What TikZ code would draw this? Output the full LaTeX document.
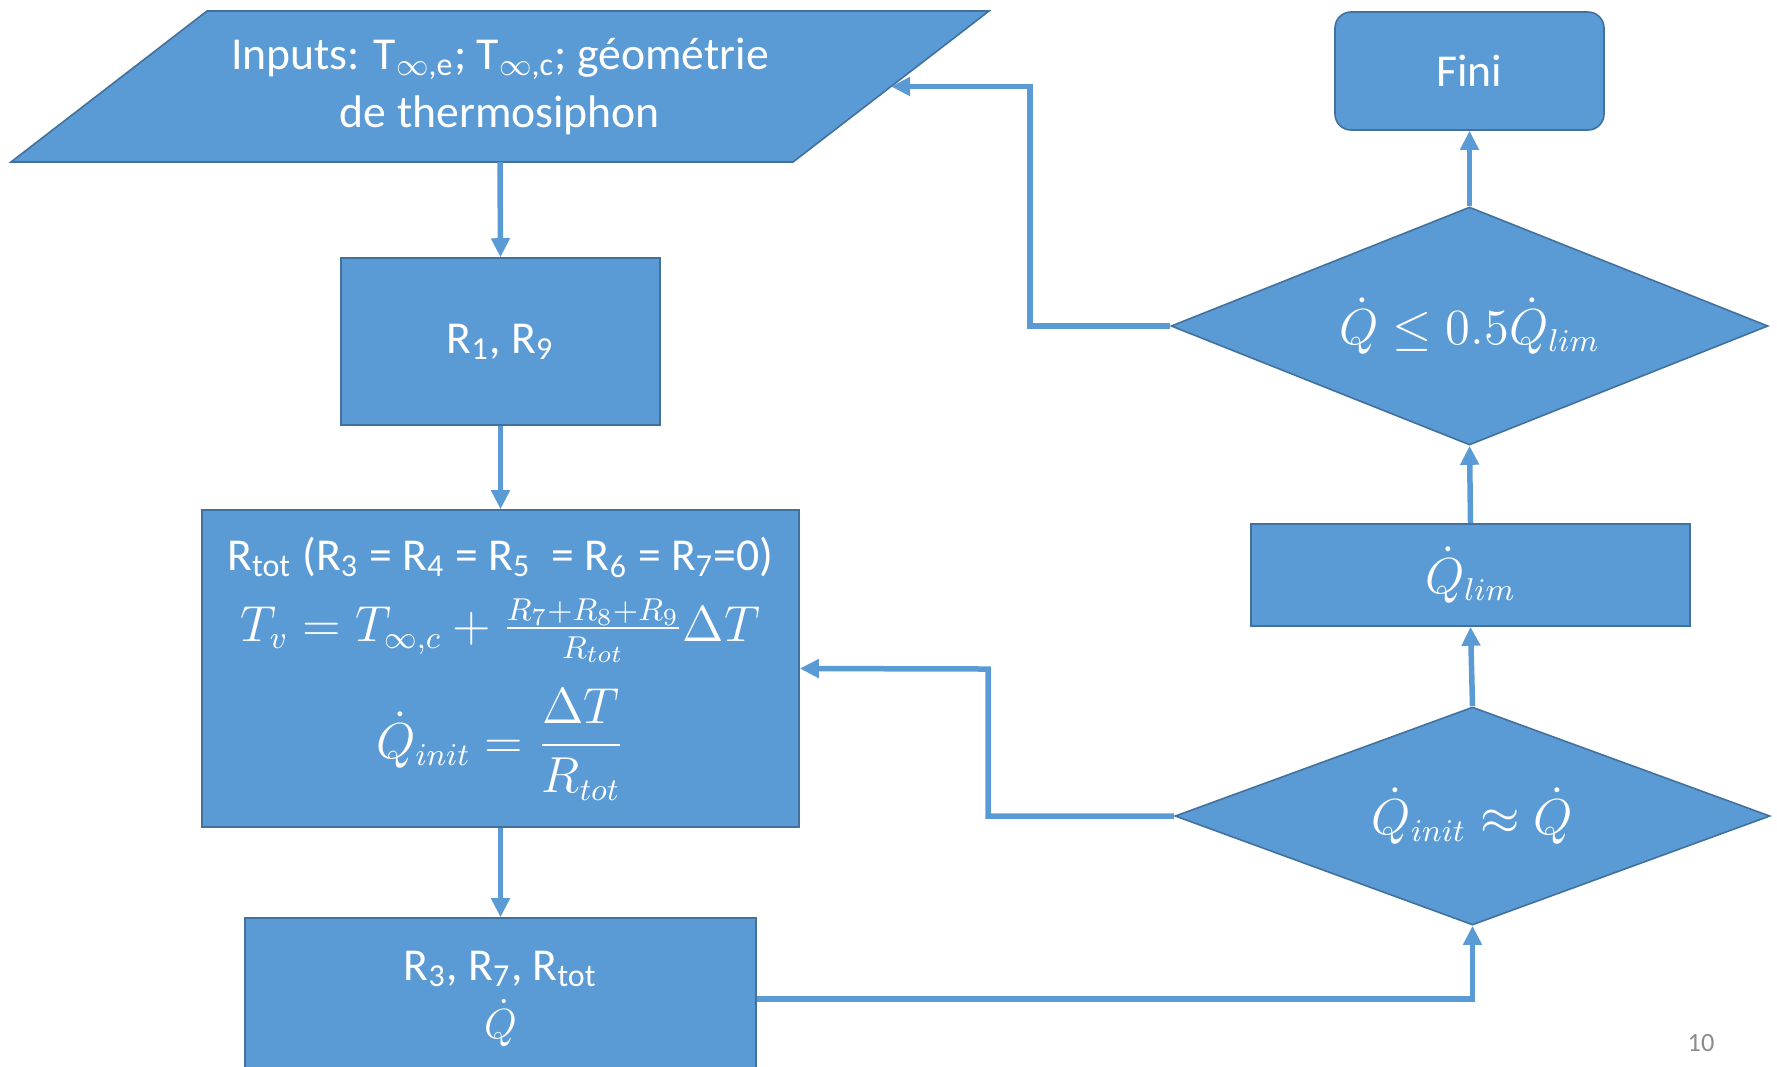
\documentclass[tikz,border=0pt]{standalone}
\usepackage{amsmath}
\usepackage{fontspec}
\setmainfont{Carlito}
\usetikzlibrary{shapes.geometric,arrows.meta}
\definecolor{boxc}{HTML}{5B9BD5}
\definecolor{edgec}{HTML}{41719C}
\definecolor{numc}{HTML}{8C8C8C}

\tikzset{
  blk/.style={fill=boxc, draw=edgec, line width=0.16mm, text=white,
    align=center, inner sep=0pt, font=\fontsize{13}{16.5}\selectfont},
  decide/.style={blk, diamond, aspect=2.5, font=\fontsize{13.5}{16.5}\selectfont},
  arr/.style={draw=boxc, line width=0.55mm,
    -{Triangle[width=1.8mm,length=1.9mm]}},
}

\begin{document}
\begin{tikzpicture}[x=0.1mm,y=-0.1mm]
  \useasboundingbox (0,0) rectangle (1777,1066);

  % ============================================================
  %                       LEFT COLUMN
  % ============================================================
  % input parallelogram
  \filldraw[blk] (207,11) -- (989,11) -- (793,162) -- (11,162) -- cycle;
  \node[text=white, align=center, font=\fontsize{13}{16.5}\selectfont]
    (inp) at (500,86.5)
    {Inputs: T\textsubscript{$\infty$,e}; T\textsubscript{$\infty$,c}; géométrie\\de thermosiphon};
  \coordinate (inpS) at (500,162);
  \coordinate (inpE) at (891,86.5);

  \node[blk, minimum width=31.9mm, minimum height=16.7mm] (r19) at (500.5,341.5)
    {R\textsubscript{1}, R\textsubscript{9}};

  \node[blk, minimum width=59.7mm, minimum height=31.7mm] (calc) at (500.5,668.5)
    {R\textsubscript{tot} (R\textsubscript{3} = R\textsubscript{4} = R\textsubscript{5}\ \ = R\textsubscript{6} = R\textsubscript{7}=0)\\[1.3mm]
     \fontsize{13.5}{16.5}\selectfont
     $T_v = T_{\infty,c} + \frac{R_7+R_8+R_9}{R_{tot}}\Delta T$\\[2.3mm]
     \fontsize{13.5}{16.5}\selectfont
     $\dot{Q}_{init} = \dfrac{\Delta T}{R_{tot}}$};

  \node[blk, minimum width=51.1mm, minimum height=16.2mm] (res) at (500.5,999)
    {R\textsubscript{3}, R\textsubscript{7}, R\textsubscript{tot}\\$\dot{Q}$};

  % ============================================================
  %                       RIGHT COLUMN
  % ============================================================
  \node[blk, rounded corners=1.6mm, minimum width=26.9mm, minimum height=11.8mm]
    (fini) at (1469.5,71) {Fini};

  \node[decide, minimum width=59.7mm, minimum height=23.8mm] (chkb) at (1469.5,326)
    {$\dot{Q} \le 0.5\dot{Q}_{lim}$};

  \node[blk, minimum width=43.9mm, minimum height=10.2mm,
    font=\fontsize{13.5}{16.5}\selectfont] (qlim) at (1470.5,575)
    {$\dot{Q}_{lim}$};

  \node[decide, minimum width=59.5mm, minimum height=21.8mm] (chka) at (1472.5,816)
    {$\dot{Q}_{init} \approx \dot{Q}$};

  \node[text=numc, font=\fontsize{7.5}{9}\selectfont] (pnum) at (1701,1043) {10};

  % ============================================================
  %                       CONNECTORS
  % ============================================================
  \coordinate (bendA) at (988,669);
  \coordinate (bendB) at (1030,86.5);

  \draw[arr] (inpS) -- (r19.north);
  \draw[arr] (r19.south) -- (calc.north);
  \draw[arr] (calc.south) -- (res.north);
  \draw[arr] (res.east) -| (chka.south);
  \draw[arr] (chka.west) -| (bendA) -- (calc.east);
  \draw[arr] (chka.north) -- (qlim.south);
  \draw[arr] (qlim.north) -- (chkb.south);
  \draw[arr] (chkb.north) -- (fini.south);
  \draw[arr] (chkb.west) -| (bendB) -- (inpE);

\end{tikzpicture}
\end{document}
